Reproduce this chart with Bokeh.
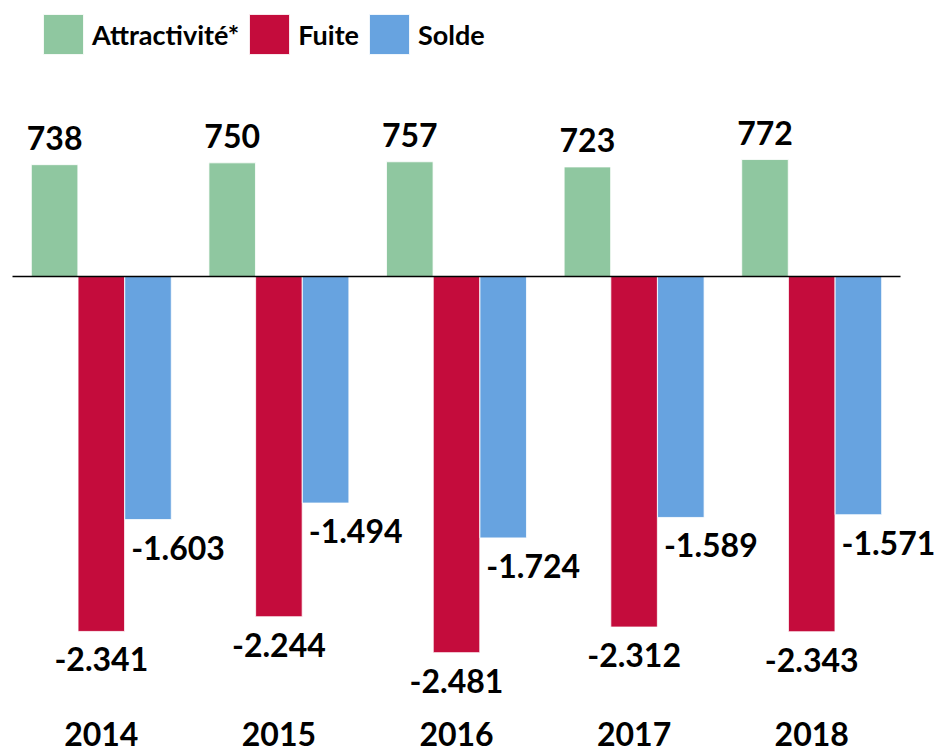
from bokeh.plotting import figure
from bokeh.models import ColumnDataSource, Range1d, Legend, LegendItem
from bokeh.transform import dodge
from bokeh.core.properties import value
from bokeh.embed import file_html
from bokeh.resources import INLINE

years = ["2014", "2015", "2016", "2017", "2018"]
attractivite = [738, 750, 757, 723, 772]
fuite = [-2341, -2244, -2481, -2312, -2343]
solde = [-1603, -1494, -1724, -1589, -1571]
series_names = ["Attractivité*", "Fuite", "Solde"]
colors = ["#8FC7A0", "#C40C3C", "#67A3E0"]

def fmt(v):
    return f"{v:,}".replace(",", ".")

X_START, X_END = -0.5676, 4.7252
Y_START, Y_END = -3133, 1821

idx = list(range(len(years)))
src = ColumnDataSource(dict(
    xi=idx, years=years,
    attr=attractivite, fuite=fuite, solde=solde,
    attr_lbl=[fmt(v) for v in attractivite],
    fuite_lbl=[fmt(v) for v in fuite],
    solde_lbl=[fmt(v) for v in solde],
    year_y=[Y_START] * len(years),
))

FONT = "Lato"
p = figure(x_range=Range1d(X_START, X_END), y_range=Range1d(Y_START, Y_END),
           width=940, height=751, output_backend="svg", toolbar_location=None,
           min_border_left=0, min_border_right=0, min_border_top=0, min_border_bottom=0)
p.axis.visible = False
p.grid.visible = False
p.outline_line_color = None

W = 0.262
D = 0.263
r1 = p.vbar(x=dodge("xi", -D), top="attr", width=W, source=src,
            fill_color=colors[0], line_color="white", line_width=0.8)
r2 = p.vbar(x=dodge("xi", 0), top="fuite", width=W, source=src,
            fill_color=colors[1], line_color="white", line_width=0.8)
r3 = p.vbar(x=dodge("xi", D), top="solde", width=W, source=src,
            fill_color=colors[2], line_color="white", line_width=0.8)

# baseline across the category band
p.segment(x0=[idx[0] - 0.5], x1=[idx[-1] + 0.5], y0=[0], y1=[0],
          line_color="black", line_width=1.6)

common = dict(source=src, text_font=value(FONT), text_font_style="bold",
              text_font_size="32px", text_color="black", text_align="center",
              text_baseline="alphabetic")
p.text(x=dodge("xi", -D), y="attr", text="attr_lbl", y_offset=-27, **common)
p.text(x=dodge("xi", 0), y="fuite", text="fuite_lbl", y_offset=28, **common)
p.text(x=dodge("xi", D), y="solde", text="solde_lbl", x_offset=30, y_offset=28, **common)
p.text(x="xi", y="year_y", text="years", y_offset=-18, **common)

legend = Legend(items=[LegendItem(label=series_names[0], renderers=[r1]),
                       LegendItem(label=series_names[1], renderers=[r2]),
                       LegendItem(label=series_names[2], renderers=[r3])],
                orientation="horizontal", location=(38, 692),
                glyph_width=50, glyph_height=50, label_height=50, label_standoff=4,
                spacing=5, padding=0, margin=0,
                border_line_color=None, background_fill_alpha=0,
                label_text_font=FONT, label_text_font_style="bold",
                label_text_font_size="27px", label_text_color="black")
p.add_layout(legend)

open("out.html", "w").write(file_html(p, INLINE))
